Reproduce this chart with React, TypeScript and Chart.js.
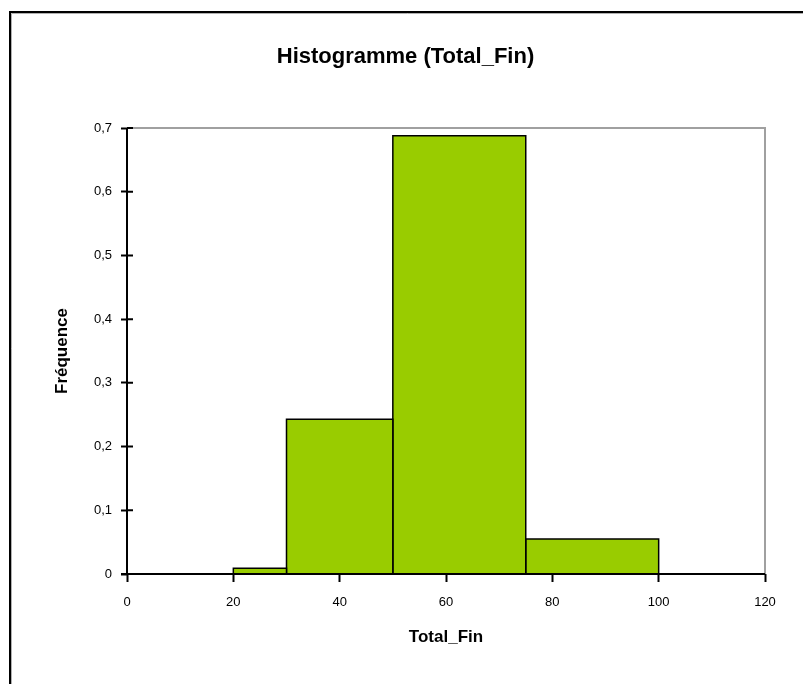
import React, { useEffect, useRef } from "react";
import { Chart, registerables } from "chart.js";

Chart.register(...registerables);

const binEdges = [20, 30, 50, 75, 100];
const frequencies = [0.009, 0.243, 0.688, 0.055];
const yTickLabels = ["0", "0,1", "0,2", "0,3", "0,4", "0,5", "0,6", "0,7"];
const xTickLabels = ["0", "20", "40", "60", "80", "100", "120"];
const chartTitle = "Histogramme (Total_Fin)";
const xTitle = "Total_Fin";
const yTitle = "Fréquence";

const FONT = "'Liberation Sans', Arial, sans-serif";

const framePlugin = {
  id: "framePlugin",
  beforeDraw(chart: any) {
    const ctx = chart.ctx;
    ctx.save();
    ctx.fillStyle = "#ffffff";
    ctx.fillRect(0, 0, chart.width, chart.height);
    ctx.strokeStyle = "#000000";
    ctx.lineWidth = 2;
    ctx.beginPath();
    ctx.moveTo(10, chart.height);
    ctx.lineTo(10, 12);
    ctx.lineTo(chart.width, 12);
    ctx.stroke();
    ctx.strokeStyle = "#b0b0b0";
    ctx.lineWidth = 1;
    ctx.beginPath();
    ctx.moveTo(11.5, chart.height);
    ctx.lineTo(11.5, 13.5);
    ctx.lineTo(chart.width, 13.5);
    ctx.stroke();
    ctx.restore();
  },
  afterDraw(chart: any) {
    const ctx = chart.ctx;
    const a = chart.chartArea;
    const ys = chart.scales.y;
    ctx.save();
    ctx.strokeStyle = "#a0a0a0";
    ctx.lineWidth = 2;
    ctx.beginPath();
    ctx.moveTo(a.left, a.top);
    ctx.lineTo(a.right, a.top);
    ctx.lineTo(a.right, a.bottom);
    ctx.stroke();
    ctx.strokeStyle = "#000000";
    ctx.lineWidth = 2;
    ctx.beginPath();
    ctx.moveTo(a.left, a.top);
    ctx.lineTo(a.left, a.bottom);
    ctx.moveTo(a.left - 6, a.bottom);
    ctx.lineTo(a.right, a.bottom);
    ys.ticks.forEach((t: any) => {
      const py = ys.getPixelForValue(t.value);
      ctx.moveTo(a.left, py);
      ctx.lineTo(a.left + 6, py);
    });
    ctx.stroke();
    ctx.restore();
  },
};

export default function App() {
  const ref = useRef<HTMLCanvasElement>(null);
  useEffect(() => {
    document.body.style.margin = "0";
    const datasets = frequencies.map((f, i) => ({
      data: [
        { x: binEdges[i], y: 0 },
        { x: binEdges[i], y: f },
        { x: binEdges[i + 1], y: f },
        { x: binEdges[i + 1], y: 0 },
      ],
      borderColor: "#000000",
      borderWidth: 1.5,
      backgroundColor: "#99CC00",
      fill: "origin",
      pointRadius: 0,
      tension: 0,
    }));
    const chart = new Chart(ref.current as HTMLCanvasElement, {
      type: "line",
      data: { datasets },
      plugins: [framePlugin],
      options: {
        animation: false,
        responsive: false,
        layout: { padding: { left: 8, right: 0, top: 0, bottom: 0 } },
        plugins: {
          legend: { display: false },
          tooltip: { enabled: false },
          title: {
            display: true,
            text: chartTitle,
            color: "#000000",
            font: { family: FONT, size: 22, weight: "bold" },
            padding: { top: 44, bottom: 57.6 },
          },
        },
        scales: {
          x: {
            type: "linear",
            min: 0,
            max: 120,
            afterFit: (s: any) => {
              s.height = 110;
            },
            ticks: {
              stepSize: 20,
              padding: 13,
              color: "#000000",
              font: { family: FONT, size: 13 },
              callback: (_v: any, i: number) => xTickLabels[i],
              maxRotation: 0,
            },
            grid: {
              drawOnChartArea: false,
              drawTicks: true,
              tickLength: 8,
              color: "#000000",
              tickWidth: 2,
            },
            border: { display: false },
            title: {
              display: true,
              text: xTitle,
              color: "#000000",
              font: { family: FONT, size: 17, weight: "bold" },
              padding: { top: 0, bottom: 36.8 },
            },
          },
          y: {
            min: 0,
            max: 0.7,
            afterFit: (s: any) => {
              s.width = 119;
            },
            ticks: {
              stepSize: 0.1,
              padding: 9,
              color: "#000000",
              font: { family: FONT, size: 13 },
              callback: (_v: any, i: number) => yTickLabels[i],
            },
            grid: {
              drawOnChartArea: false,
              drawTicks: true,
              tickLength: 6,
              color: "#000000",
              tickWidth: 2,
            },
            border: { display: false },
            title: {
              display: true,
              text: yTitle,
              color: "#000000",
              font: { family: FONT, size: 17, weight: "bold" },
              padding: { top: 43.8, bottom: 0 },
            },
          },
          yRight: {
            position: "right",
            display: true,
            min: 0,
            max: 0.7,
            afterFit: (s: any) => {
              s.width = 38;
            },
            ticks: { display: false },
            grid: { display: false, drawTicks: false },
            border: { display: false },
          },
        },
      },
    } as any);
    return () => chart.destroy();
  }, []);
  return <canvas ref={ref} width={803} height={684} style={{ display: "block" }} />;
}
